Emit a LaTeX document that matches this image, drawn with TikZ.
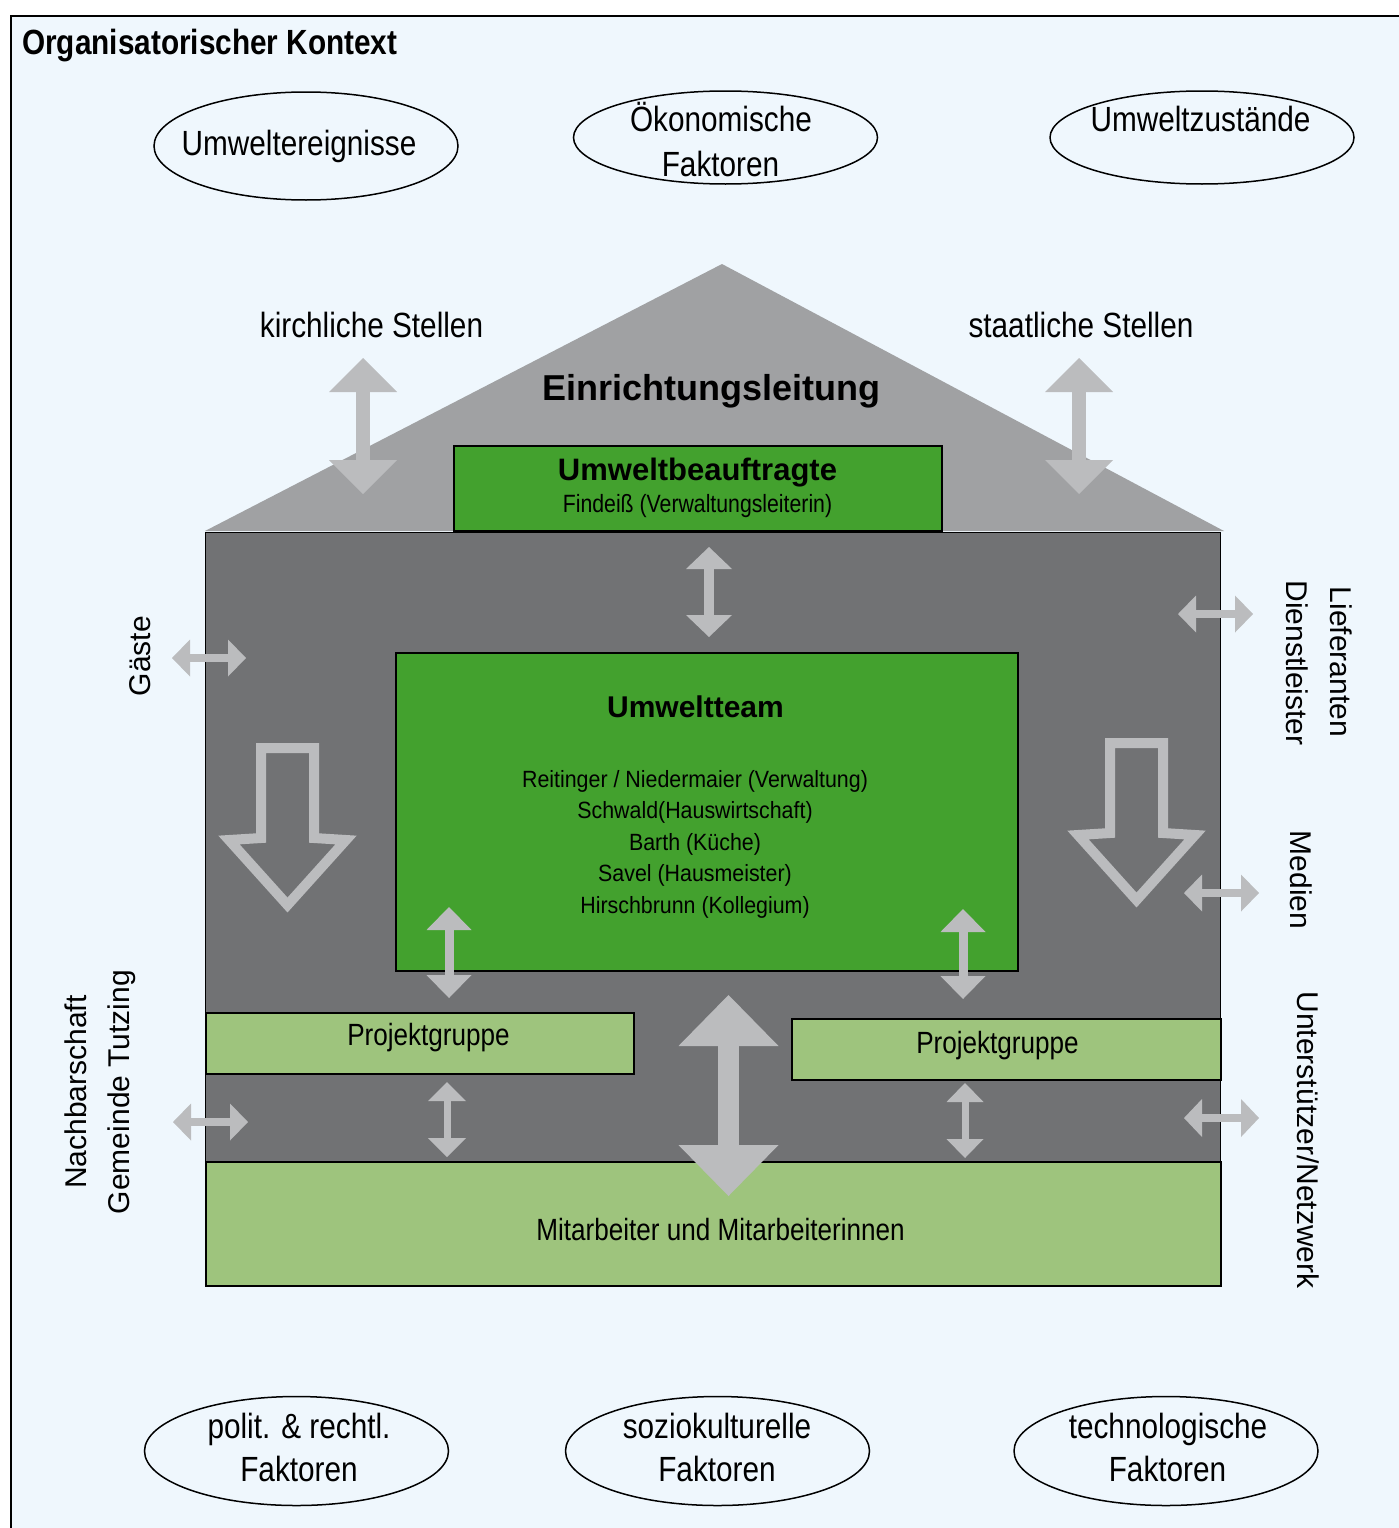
\documentclass[tikz,border=0pt]{standalone}
\usepackage{fontspec}
\setmainfont{Liberation Sans}
\newfontfamily\nfont[FakeStretch=0.85]{Liberation Sans}
\newfontfamily\mfont[FakeStretch=0.91]{Liberation Sans}
\usetikzlibrary{arrows.meta,shapes.geometric}
\definecolor{bgblue}{HTML}{EFF7FD}
\definecolor{roofgray}{HTML}{A0A1A3}
\definecolor{bodygray}{HTML}{717274}
\definecolor{arrgray}{HTML}{BBBCBE}
\definecolor{dgreen}{HTML}{43A12E}
\definecolor{lgreen}{HTML}{9EC47D}
\newcommand\fsz[1]{\fontsize{#1}{#1}\selectfont}
\tikzset{
  ell/.style={ellipse, draw=black, line width=1.5pt, inner sep=0pt, minimum width=304pt},
  etext/.style={font=\nfont\fsz{35}, inner sep=0pt, anchor=base},
  boxn/.style={draw=black, line width=1.8pt, inner sep=0pt, anchor=north west},
  rlabel/.style={font=\fsz{30}, inner sep=0pt, anchor=base},
  barrow/.style n args={3}{draw=arrgray, line width=#1,
     {Triangle[length=#3,width=#2,line width=0pt,fill=arrgray]}-{Triangle[length=#3,width=#2,line width=0pt,fill=arrgray]}},
  hollow/.style={draw=arrgray, line width=10pt, line join=miter}
}
\begin{document}
\begin{tikzpicture}[x=1pt,y=-1pt]
\useasboundingbox (0,0) rectangle (1398,1528);
\fill[white] (0,0) rectangle (1398,1528);
\draw[line width=2pt, fill=bgblue] (11,16) rectangle (1412,1545);

% title
\node[anchor=base west, font=\nfont\bfseries\fsz{35}, inner sep=0pt] (title) at (22,55) {Organisatorischer Kontext};

% top ellipses
\node[ell, minimum height=108pt] (e1) at (306,146) {};
\node[etext] (t1) at (299,155) {Umweltereignisse};
\node[ell, minimum height=93pt] (e2) at (725.5,137.5) {};
\node[etext] (t2a) at (721,131) {Ökonomische};
\node[etext] (t2b) at (720.5,176) {Faktoren};
\node[ell, minimum height=93pt] (e3) at (1202,137.5) {};
\node[etext] (t3) at (1200.5,131) {Umweltzustände};

% bottom ellipses
\node[ell, minimum height=109pt] (e4) at (296.5,1451) {};
\node[etext] (t4a) at (299,1438) {polit. \& rechtl.};
\node[etext] (t4b) at (299,1481) {Faktoren};
\node[ell, minimum height=109pt] (e5) at (717.5,1451) {};
\node[etext] (t5a) at (717,1438) {soziokulturelle};
\node[etext] (t5b) at (717,1481) {Faktoren};
\node[ell, minimum height=109pt] (e6) at (1166,1451) {};
\node[etext] (t6a) at (1168,1438) {technologische};
\node[etext] (t6b) at (1167.5,1481) {Faktoren};

% house
\fill[roofgray] (205,531) -- (722,264) -- (1224,531) -- cycle;
\node[boxn, line width=1.2pt, fill=bodygray, minimum width=1015pt, minimum height=629pt] (body) at (205,532) {};
\node[boxn, fill=dgreen, minimum width=488pt, minimum height=85pt] (ub) at (453,445) {};
\node[boxn, fill=dgreen, minimum width=622pt, minimum height=318pt] (ut) at (395,652) {};
\node[boxn, fill=lgreen, minimum width=428pt, minimum height=61pt] (pgl) at (205,1012) {};
\node[boxn, fill=lgreen, minimum width=429pt, minimum height=61pt] (pgr) at (791,1018) {};
\node[boxn, fill=lgreen, minimum width=1015pt, minimum height=124pt] (ma) at (205,1161) {};

% texts in house
\node[anchor=base, inner sep=0pt, font=\bfseries\fsz{36}] (el) at (711.5,400) {Einrichtungsleitung};
\node[etext] (ks) at (371.5,337) {kirchliche Stellen};
\node[etext] (ss) at (1081,337) {staatliche Stellen};
\node[anchor=base, inner sep=0pt, font=\bfseries\fsz{31}] (ubt) at (697.5,480) {Umweltbeauftragte};
\node[anchor=base, inner sep=0pt, font=\nfont\fsz{25}] (ubn) at (697.5,512) {Findeiß (Verwaltungsleiterin)};
\node[anchor=base, inner sep=0pt, font=\bfseries\fsz{30}] (utt) at (695.5,717) {Umweltteam};
\tikzset{mem/.style={anchor=base, inner sep=0pt, font=\mfont\fsz{23.5}}}
\node[mem] (m1) at (695,787) {Reitinger / Niedermaier (Verwaltung)};
\node[mem] (m2) at (695,818.5) {Schwald(Hauswirtschaft)};
\node[mem] (m3) at (695,850) {Barth (Küche)};
\node[mem] (m4) at (695,881.5) {Savel (Hausmeister)};
\node[mem] (m5) at (695,913) {Hirschbrunn (Kollegium)};
\node[anchor=base, inner sep=0pt, font=\nfont\fsz{30.7}] (pglt) at (428.5,1045) {Projektgruppe};
\node[anchor=base, inner sep=0pt, font=\nfont\fsz{30.7}] (pgrt) at (997.5,1053) {Projektgruppe};
\node[anchor=base, inner sep=0pt, font=\nfont\fsz{30.7}] (mat) at (720.5,1240) {Mitarbeiter und Mitarbeiterinnen};

% side labels
\node[rlabel, rotate=90] (gaeste) at (150,656) {Gäste};
\node[rlabel, rotate=90] (nach) at (86,1092) {Nachbarschaft};
\node[rlabel, rotate=90] (gem) at (129,1092) {Gemeinde Tutzing};
\node[rlabel, rotate=-90] (lief) at (1330,662) {Lieferanten};
\node[rlabel, rotate=-90] (dien) at (1286,663) {Dienstleister};
\node[rlabel, rotate=-90] (med) at (1290,880) {Medien};
\node[rlabel, rotate=-90] (unt) at (1297,1140) {Unterstützer/Netzwerk};

% hollow arrows
\draw[hollow] (261,748) -- (314,748) -- (314,838) -- (346,840) -- (287.5,905) -- (229,840) -- (261,838) -- cycle;
\draw[hollow] (1110,743) -- (1163,743) -- (1163,833) -- (1195,835) -- (1136.5,900) -- (1078,835) -- (1110,833) -- cycle;

% double arrows
\draw[barrow={14pt}{68pt}{34pt}] (363,358) -- (363,494);
\draw[barrow={14pt}{68pt}{34pt}] (1079,358) -- (1079,494);
\draw[barrow={10pt}{46pt}{22pt}] (709,547) -- (709,637);
\draw[barrow={8pt}{37pt}{18pt}] (172,658) -- (246,658);
\draw[barrow={8pt}{37pt}{18pt}] (1178,614) -- (1253,614);
\draw[barrow={8pt}{37pt}{18pt}] (1184,893) -- (1259,893);
\draw[barrow={8pt}{38pt}{18pt}] (1184,1118) -- (1259,1118);
\draw[barrow={8pt}{37pt}{18pt}] (173,1122) -- (248,1122);
\draw[barrow={9pt}{45pt}{23pt}] (449,907) -- (449,998);
\draw[barrow={9pt}{45pt}{23pt}] (963,909) -- (963,999);
\draw[barrow={7pt}{38pt}{19pt}] (447,1082) -- (447,1157);
\draw[barrow={7pt}{37pt}{19pt}] (965,1083) -- (965,1158);
\draw[barrow={21pt}{100pt}{51pt}] (728.5,995) -- (728.5,1196);
\end{tikzpicture}
\end{document}
